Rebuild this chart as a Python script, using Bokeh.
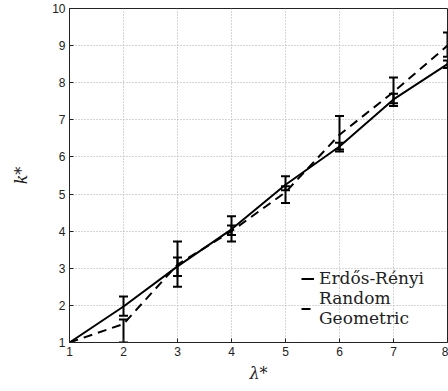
from bokeh.plotting import figure
from bokeh.models import ColumnDataSource, Whisker, TeeHead, Legend, LegendItem, Range1d, FixedTicker
from bokeh.embed import file_html
from bokeh.resources import INLINE

# data
lam = [1, 2, 3, 4, 5, 6, 7, 8]
er_mean = [1.0, 1.97, 3.05, 4.05, 5.25, 6.28, 7.55, 8.5]
er_low = [1.0, 1.72, 2.79, 3.72, 5.10, 6.15, 7.37, 8.40]
er_high = [1.0, 2.24, 3.29, 4.40, 5.48, 6.38, 7.70, 8.60]
rg_mean = [1.0, 1.5, 3.1, 4.0, 5.05, 6.6, 7.75, 9.0]
rg_low = [1.0, 1.0, 2.5, 3.9, 4.76, 6.2, 7.45, 8.7]
rg_high = [1.0, 1.62, 3.72, 4.15, 5.21, 7.1, 8.14, 9.35]
x_ticks = [1, 2, 3, 4, 5, 6, 7, 8]
y_ticks = [1, 2, 3, 4, 5, 6, 7, 8, 9, 10]

er = ColumnDataSource(dict(x=lam, y=er_mean, lo=er_low, hi=er_high))
rg = ColumnDataSource(dict(x=lam, y=rg_mean, lo=rg_low, hi=rg_high))

p = figure(width=448, height=385, output_backend="svg", toolbar_location=None,
           x_range=Range1d(1, 8), y_range=Range1d(1, 10),
           min_border_left=69, min_border_right=1, min_border_top=8, min_border_bottom=10)
p.background_fill_color = "white"
p.border_fill_color = "white"
p.outline_line_color = "#222222"
p.outline_line_width = 1

for ax in (p.xaxis, p.yaxis):
    ax.major_tick_in = 4
    ax.major_tick_out = 0
    ax.minor_tick_line_color = None
    ax.axis_line_color = "#222222"
    ax.major_tick_line_color = "#222222"
    ax.major_label_text_font = "Liberation Sans"
    ax.major_label_text_font_size = "12px"
    ax.major_label_text_color = "#222222"
    ax.axis_label_text_font = "DejaVu Serif"
    ax.axis_label_text_font_style = "italic"
    ax.axis_label_text_font_size = "16px"
    ax.axis_label_text_color = "#222222"

p.xaxis.ticker = FixedTicker(ticks=x_ticks)
p.yaxis.ticker = FixedTicker(ticks=y_ticks)
p.xaxis.major_label_standoff = 4
p.yaxis.major_label_standoff = 4
p.xaxis.axis_label = "λ*"
p.yaxis.axis_label = "k*"
p.xaxis.axis_label_standoff = 5
p.yaxis.axis_label_standoff = 18

p.grid.grid_line_color = "#aaaaaa"
p.grid.grid_line_dash = "1 2"
p.grid.grid_line_width = 1

r_er = p.line("x", "y", source=er, line_color="black", line_width=2)
r_rg = p.line("x", "y", source=rg, line_color="black", line_width=2, line_dash="9 6")

for src in (er, rg):
    w = Whisker(source=src, base="x", lower="lo", upper="hi", line_color="black", line_width=2,
                upper_head=TeeHead(size=9, line_color="black", line_width=2),
                lower_head=TeeHead(size=9, line_color="black", line_width=2))
    p.add_layout(w)

legend = Legend(items=[LegendItem(label="Erdős-Rényi", renderers=[r_er]),
                       LegendItem(label="Random\nGeometric", renderers=[r_rg])],
                location=(232, 14))
legend.border_line_color = None
legend.background_fill_alpha = 0
legend.label_text_font = "DejaVu Serif"
legend.label_text_font_size = "17px"
legend.label_text_color = "#222222"
legend.glyph_width = 13
legend.label_standoff = 5
legend.padding = 0
legend.spacing = 0
legend.label_height = 19
legend.glyph_height = 19
p.add_layout(legend)

open("out.html", "w").write(file_html(p, INLINE))
